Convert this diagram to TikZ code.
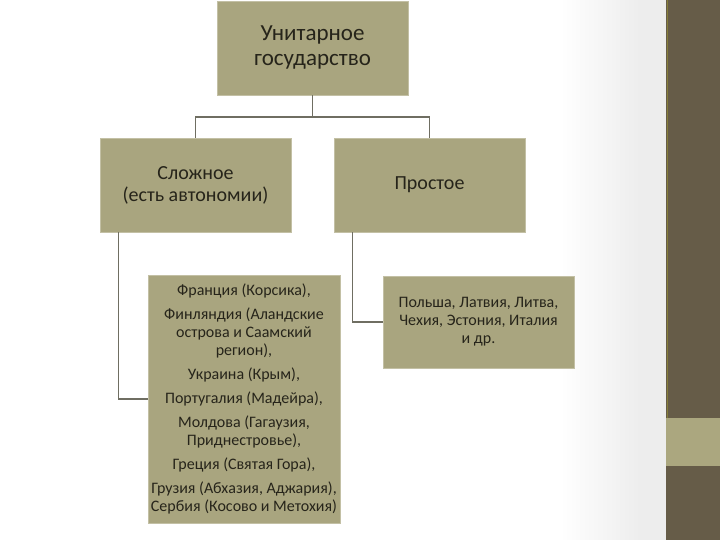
\documentclass[tikz,border=0pt]{standalone}
\usepackage{fontspec}
\setmainfont{Carlito}
\definecolor{boxfill}{HTML}{A9A57F}
\definecolor{boxtext}{HTML}{26241A}
\definecolor{linkgray}{HTML}{6F6E62}
\definecolor{bandbrown}{HTML}{665C48}
\definecolor{bandolive}{HTML}{ABA77F}
\definecolor{stripgray}{HTML}{EDEDED}
\tikzset{
  box/.style={draw=boxfill!70!white, line width=0.6pt, fill=boxfill, text=boxtext,
    align=center, inner sep=2pt, minimum width=191pt, minimum height=94pt},
  bigtext/.style={font=\fontsize{23}{25}\selectfont},
  midtext/.style={font=\fontsize{20}{22}\selectfont},
  smalltext/.style={font=\fontsize{16}{18}\selectfont},
  link/.style={draw=linkgray, line width=1.5pt}
}
\begin{document}
\begin{tikzpicture}[x=1pt,y=-1pt]
    % background and right band
    \useasboundingbox (0,0) rectangle (720,540);
    \fill[white] (0,0) rectangle (720,540);
    \shade[left color=white, right color=stripgray] (560,0) rectangle (640,540);
    \fill[stripgray] (640,0) rectangle (666,540);
    \fill[bandbrown] (666,0) rectangle (720,540);
    \fill[bandolive] (666,418) rectangle (720,466);
    \draw[bandbrown!80!yellow, line width=1pt] (667.5,0) -- (667.5,418);
    % boxes
    \node[box, bigtext] (top) at (312.5,48) {Унитарное\\ государство};
    \node[box, midtext] (cpx) at (195.5,185) {Сложное\\ (есть автономии)};
    \node[box, midtext] (smp) at (429.5,185) {Простое};
    \node[box, smalltext, minimum width=192pt, minimum height=248pt] (cpxlist) at (244,399)
      {Франция (Корсика),\\[6pt]
       Финляндия (Аландские\\ острова и Саамский\\ регион),\\[6pt]
       Украина (Крым),\\[6pt]
       Португалия (Мадейра),\\[6pt]
       Молдова (Гагаузия,\\ Приднестровье),\\[6pt]
       Греция (Святая Гора),\\[6pt]
       Грузия (Абхазия, Аджария),\\ Сербия (Косово и Метохия)};
    \node[box, smalltext, minimum height=92pt] (smplist) at (478.5,322)
      {Польша, Латвия, Литва,\\ Чехия, Эстония, Италия\\ и др.};
    % connectors
    \coordinate (split) at (312.5,117);
    \draw[link] (top.south) -- (split);
    \draw[link] (cpx.north) |- (split) -| (smp.north);
    \draw[link] ([xshift=19pt]cpx.south west) |- (cpxlist.west);
    \draw[link] ([xshift=19pt]smp.south west) |- (smplist.west);
\end{tikzpicture}
\end{document}
